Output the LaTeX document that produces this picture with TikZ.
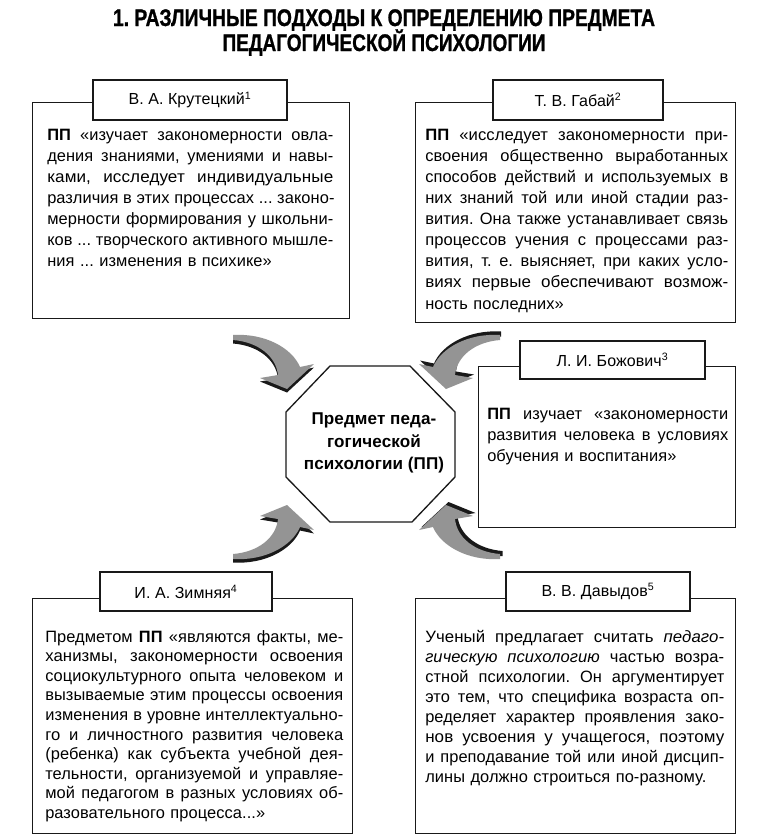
\documentclass[tikz,border=0pt]{standalone}
\usepackage{fontspec}
\usepackage{graphicx}
\newfontfamily\bodyfont[LetterSpace=0.5]{Liberation Sans}
\newfontfamily\titlefont[BoldFeatures={FakeBold=1.2}]{Liberation Sans}
\frenchspacing
\newlength{\jw}
\newlength{\jnatw}
\newlength{\jtmpw}
\newcommand{\jl}[1]{\settowidth{\jnatw}{#1}%
  \pgfmathsetmacro{\jsc}{min(1.08,max(1,(\jw-10pt)/\jnatw))}%
  \pgfmathsetlength{\jtmpw}{\jw/\jsc}%
  \leavevmode\scalebox{\jsc}[1]{\hbox to\jtmpw{\spaceskip=\fontdimen2\font plus 1fil\relax #1}}\\}
% block arrow: #1 xscale, #2 yscale, #3 shadow dx, #4 shadow dy
\newcommand{\barrow}[4]{%
  \fill[black!90, shift={(366.5,447)}, shift={(#3,#4)}, xscale=#1, yscale=#2]
    (-133.5,-112) .. controls (-101.5,-114) and (-74.5,-99) .. (-66.5,-80)
    -- (-52.5,-83) -- (-79.5,-58) -- (-106.5,-69) -- (-88.5,-72)
    .. controls (-90.5,-91) and (-108.5,-105) .. (-133.5,-107) -- cycle;
  \fill[black!42, shift={(366.5,447)}, xscale=#1, yscale=#2]
    (-133.5,-112) .. controls (-101.5,-114) and (-74.5,-99) .. (-66.5,-80)
    -- (-52.5,-83) -- (-79.5,-58) -- (-106.5,-69) -- (-88.5,-72)
    .. controls (-90.5,-91) and (-108.5,-105) .. (-133.5,-107) -- cycle;
}
\begin{document}
\begin{tikzpicture}[x=0.75pt,y=-0.75pt,
  frame/.style={draw=black!90, line width=1pt, inner sep=0pt, anchor=north west},
  tab/.style={draw=black!90, line width=1pt, fill=white, inner sep=0pt,
    font=\bodyfont\fontsize{12pt}{13pt}\selectfont},
  body/.style={inner sep=0pt, anchor=base west, align=left,
    font=\bodyfont\fontsize{12.3pt}{#1}\selectfont},
  titletext/.style={inner sep=0pt, anchor=base,
    font=\titlefont\bfseries\fontsize{18pt}{20pt}\selectfont},
  subjtext/.style={inner sep=0pt, align=center,
    font=\bodyfont\bfseries\fontsize{12.8pt}{16.9pt}\selectfont}
]
\fill[white] (0,0) rectangle (768,840);
\useasboundingbox (0,0) rectangle (768,840);

% title
\node[titletext] (title1) at (384,26) {\resizebox{406.5pt}{\height}{1. РАЗЛИЧНЫЕ ПОДХОДЫ К ОПРЕДЕЛЕНИЮ ПРЕДМЕТА}};
\node[titletext] (title2) at (384,51) {\resizebox{242.25pt}{\height}{ПЕДАГОГИЧЕСКОЙ ПСИХОЛОГИИ}};

% arrows
\barrow{1}{1}{0}{3.5}
\barrow{-1}{1}{1}{-3.5}
\barrow{1}{-1}{0}{3.5}
\barrow{-1}{-1}{2.5}{-3}

% centre octagon
\draw[black!90, line width=1pt] (330,366) -- (410,366) -- (455,412) -- (455,477)
  -- (412,522) -- (330,522) -- (286,477) -- (286,412) -- cycle;
\node[subjtext] (subj) at (374,443) {Предмет педа-\\гогической\\психологии (ПП)};

% Крутецкий
\node[frame, minimum width=237.75pt, minimum height=162pt] (f1) at (32,102) {};
\node[tab, minimum width=145.5pt, minimum height=30pt] (t1) at (190,100) {В. А. Крутецкий\textsuperscript{1}};
\node[body=15.75pt, text width=214.5pt] (b1) at (47,140) {\setlength{\jw}{214.5pt}%
\jl{\textbf{ПП} «изучает закономерности овла-}
\jl{дения знаниями, умениями и навы-}
\jl{ками, исследует индивидуальные}
\jl{различия в этих процессах ... законо-}
\jl{мерности формирования у школьни-}
\jl{ков ... творческого активного мышле-}
ния ... изменения в психике»};

% Габай
\node[frame, minimum width=240pt, minimum height=165pt] (f2) at (415,102) {};
\node[tab, minimum width=127.5pt, minimum height=30pt] (t2) at (578,100) {Т. В. Габай\textsuperscript{2}};
\node[body=15.85pt, text width=227.25pt] (b2) at (425,140) {\setlength{\jw}{227.25pt}%
\jl{\textbf{ПП} «исследует закономерности при-}
\jl{своения общественно выработанных}
\jl{способов действий и используемых в}
\jl{них знаний той или иной стадии раз-}
\jl{вития. Она также устанавливает связь}
\jl{процессов учения с процессами раз-}
\jl{вития, т. е. выясняет, при каких усло-}
\jl{виях первые обеспечивают возмож-}
ность последних»};

% Божович
\node[frame, minimum width=192.75pt, minimum height=120.75pt] (f3) at (478,366) {};
\node[tab, minimum width=138.75pt, minimum height=28.5pt] (t3) at (612.5,360) {Л. И. Божович\textsuperscript{3}};
\node[body=16.1pt, text width=180.75pt] (b3) at (487,419) {\setlength{\jw}{180.75pt}%
\jl{\textbf{ПП} изучает «закономерности}
\jl{развития человека в условиях}
обучения и воспитания»};

% Зимняя
\node[frame, minimum width=240pt, minimum height=176.25pt] (f4) at (32,598) {};
\node[tab, minimum width=129pt, minimum height=29.25pt] (t4) at (186,591.5) {И. А. Зимняя\textsuperscript{4}};
\node[body=14.7pt, text width=223.5pt] (b4) at (45,642) {\setlength{\jw}{223.5pt}%
\jl{Предметом \textbf{ПП} «являются факты, ме-}
\jl{ханизмы, закономерности освоения}
\jl{социокультурного опыта человеком и}
\jl{вызываемые этим процессы освоения}
\jl{изменения в уровне интеллектуально-}
\jl{го и личностного развития человека}
\jl{(ребенка) как субъекта учебной дея-}
\jl{тельности, организуемой и управляе-}
\jl{мой педагогом в разных условиях об-}
разовательного процесса...»};

% Давыдов
\node[frame, minimum width=240pt, minimum height=176.25pt] (f5) at (415,598) {};
\node[tab, minimum width=138pt, minimum height=29.25pt] (t5) at (598,591.5) {В. В. Давыдов\textsuperscript{5}};
\node[body=15pt, text width=224.25pt] (b5) at (425,642) {\setlength{\jw}{224.25pt}%
\jl{Ученый предлагает считать \textit{педаго-}}
\jl{\textit{гическую психологию} частью возра-}
\jl{стной психологии. Он аргументирует}
\jl{это тем, что специфика возраста оп-}
\jl{ределяет характер проявления зако-}
\jl{нов усвоения у учащегося, поэтому}
\jl{и преподавание той или иной дисцип-}
лины должно строиться по-разному.};
\end{tikzpicture}
\end{document}
